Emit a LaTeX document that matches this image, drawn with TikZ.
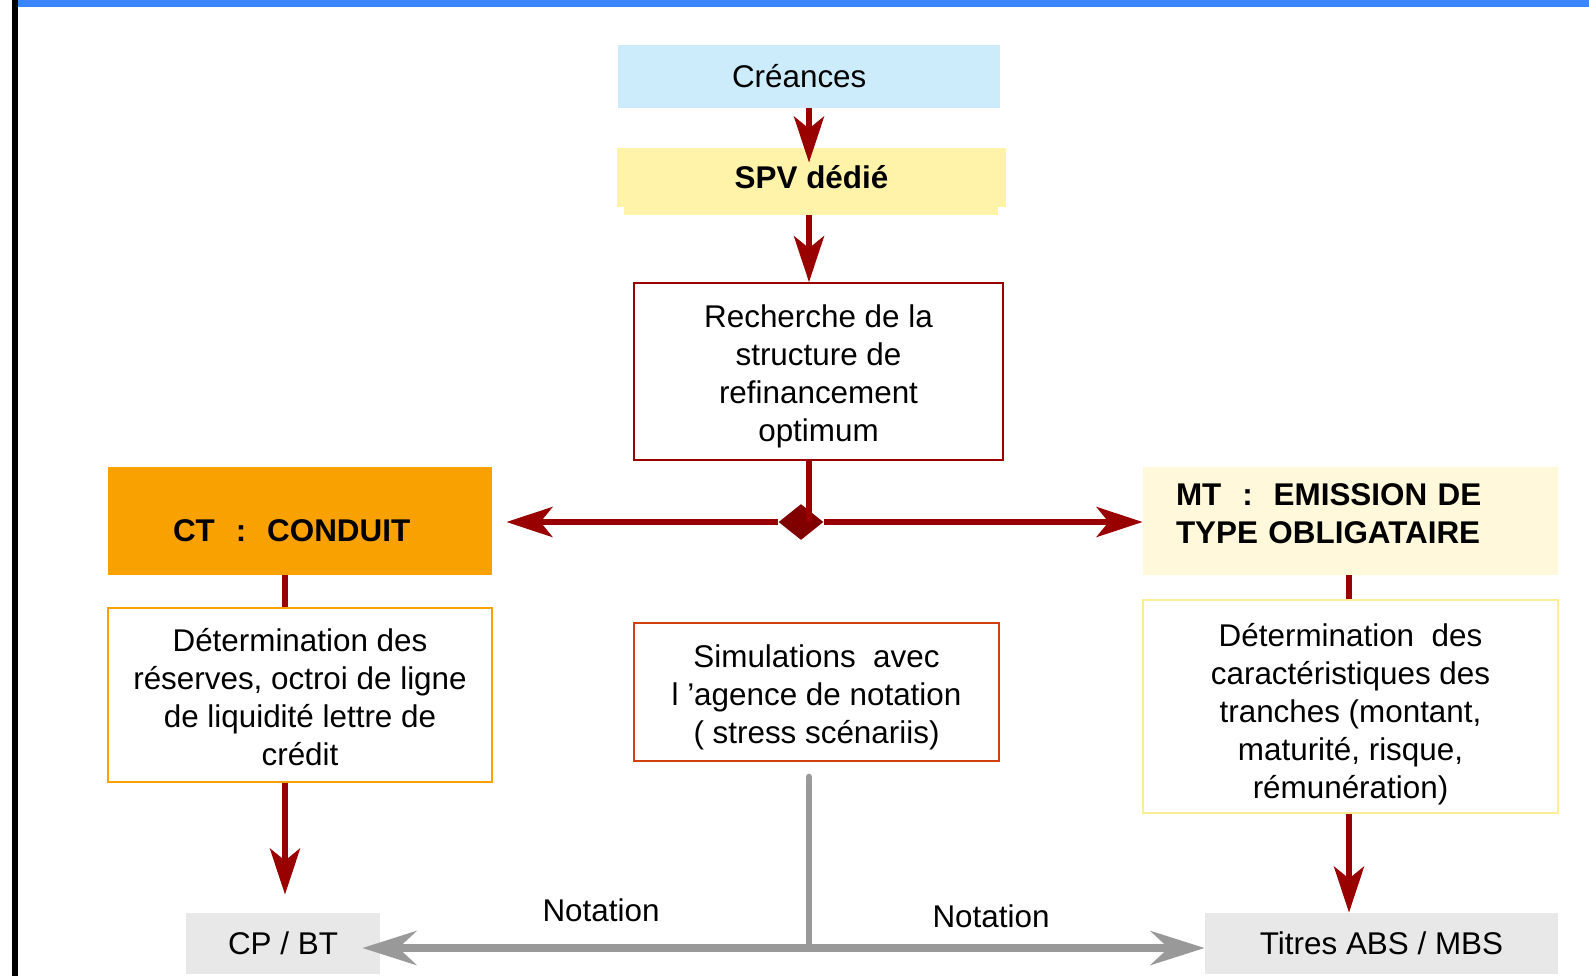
\documentclass[tikz,border=0pt]{standalone}
\usepackage{fontspec}
\setmainfont{Liberation Sans}
\usepackage{tikz}
\usetikzlibrary{arrows.meta}
\usetikzlibrary{shapes.geometric}

\definecolor{darkred}{RGB}{153,0,0}
\definecolor{hubred}{RGB}{128,0,0}
\definecolor{skyfill}{RGB}{204,236,252}
\definecolor{spvfill}{RGB}{255,243,170}
\definecolor{ctorange}{RGB}{249,161,0}
\definecolor{mtcream}{RGB}{255,248,218}
\definecolor{mtline}{RGB}{255,236,150}
\definecolor{simline}{RGB}{208,64,16}
\definecolor{boxgray}{RGB}{232,232,232}
\definecolor{linegray}{RGB}{153,153,153}
\definecolor{barblue}{RGB}{58,132,255}

% strut that pushes a node text down / up
\newcommand{\downstrut}[1]{\rule{0pt}{#1}}
\newcommand{\upstrut}[1]{\rule[-#1]{0pt}{#1}}

\begin{document}
\begin{tikzpicture}[x=0.5pt,y=-0.5pt,
  every node/.style={font=\fontsize{15.7}{19}\selectfont, align=center, inner sep=0pt},
  bold text/.style={font=\fontsize{15.7}{19}\selectfont\bfseries},
  main box/.style={rectangle, draw=#1, line width=0.8pt},
  fill box/.style={rectangle, fill=#1},
  red line/.style={draw=darkred, line width=3pt},
  red arrow/.style={red line, -{Stealth[length=23pt,width=15pt,inset=6pt]}},
  gray arrow/.style={draw=linegray, line width=4pt, -{Stealth[length=27pt,width=17pt,inset=9pt]}}]

  \useasboundingbox (0,0) rectangle (1589,976);
  \fill (12,0) rectangle (18,976);
  \fill[barblue] (18,0) rectangle (1589,7);

  \node[fill box=skyfill, minimum width=191pt, minimum height=31.5pt, text width=77pt, align=left] (creances) at (809,76.5) {Créances};
  \node[fill box=spvfill, minimum width=187pt, minimum height=27.5pt] (spvshadow) at (811,187.5) {};
  \node[fill box=spvfill, minimum width=194.5pt, minimum height=29.5pt, bold text] (spv) at (811.5,177.5) {SPV dédié};
  \node[main box=darkred, minimum width=184.5pt, minimum height=88.5pt] (recherche) at (818.5,371.5) {\downstrut{16.5pt}Recherche de la\\structure de\\refinancement\\optimum};
  \node[diamond, fill=hubred, minimum width=22.5pt, minimum height=18pt] (hub) at (801,522) {};

  \node[fill box=ctorange, minimum width=192pt, minimum height=54pt, text width=127pt, align=left, bold text] (conduit) at (300,521) {\downstrut{20.3pt}CT~ :~ CONDUIT};
  \node[fill box=mtcream, minimum width=207.5pt, minimum height=54pt, text width=174.5pt, align=left, bold text] (emission) at (1350.5,521) {MT~ :~ EMISSION DE\\TYPE OBLIGATAIRE\upstrut{7pt}};

  \node[main box=ctorange, minimum width=192pt, minimum height=87pt] (reserves) at (300,695) {\downstrut{13.8pt}Détermination des\\réserves, octroi de ligne\\de liquidité lettre de\\crédit};
  \node[main box=simline, minimum width=182.5pt, minimum height=69pt] (simulations) at (816.5,692) {\downstrut{17pt}Simulations~ avec\\l ’agence de notation\\( stress scénariis)};
  \node[main box=mtline, minimum width=207.5pt, minimum height=106.5pt] (tranches) at (1350.5,706.5) {\downstrut{18.8pt}Détermination~ des\\caractéristiques des\\tranches (montant,\\maturité, risque,\\rémunération)};

  \node[fill box=boxgray, minimum width=97pt, minimum height=30.5pt] (cpbt) at (283,943.5) {CP / BT};
  \node[fill box=boxgray, minimum width=176.5pt, minimum height=30.5pt] (titres) at (1381.5,943.5) {Titres ABS / MBS};
  \node (notleft) at (601,910) {Notation};
  \node (notright) at (991,916) {Notation};

  \coordinate (leftaxis) at (285,0);
  \coordinate (midaxis) at (809,0);
  \coordinate (rightaxis) at (1349,0);
  \coordinate (spvin) at ([yshift=-7.5pt]spv.north);
  \coordinate (ctend) at ([xshift=7pt]conduit.east);
  \coordinate (cpbtin) at ([yshift=9pt]cpbt.north);
  \coordinate (cpbtout) at ([xshift=-9pt]cpbt.east);
  \coordinate (graytop) at (809,777);
  \coordinate (grayjoin) at (809,948);

  % centre column
  \draw[red arrow] (creances.south -| midaxis) -- (spvin -| midaxis);
  \draw[red arrow] (spvshadow.south -| midaxis) -- (recherche.north -| midaxis);
  \draw[red line] (recherche.south -| midaxis) -- (hub -| midaxis);
  \draw[red arrow] (hub) -- (ctend |- hub);
  \draw[red arrow] (hub) -- (emission.west |- hub);

  % side columns
  \draw[red line] (conduit.south -| leftaxis) -- (reserves.north -| leftaxis);
  \draw[red arrow] (reserves.south -| leftaxis) -- (cpbtin -| leftaxis);
  \draw[red line] (emission.south -| rightaxis) -- (tranches.north -| rightaxis);
  \draw[red arrow] (tranches.south -| rightaxis) -- (titres.north -| rightaxis);

  % notation
  \draw[linegray, line width=3.3pt, line cap=round] (graytop) -- (grayjoin);
  \draw[gray arrow] (grayjoin) -- (cpbtout |- grayjoin);
  \draw[gray arrow] (grayjoin) -- (titres.west |- grayjoin);

\end{tikzpicture}
\end{document}
